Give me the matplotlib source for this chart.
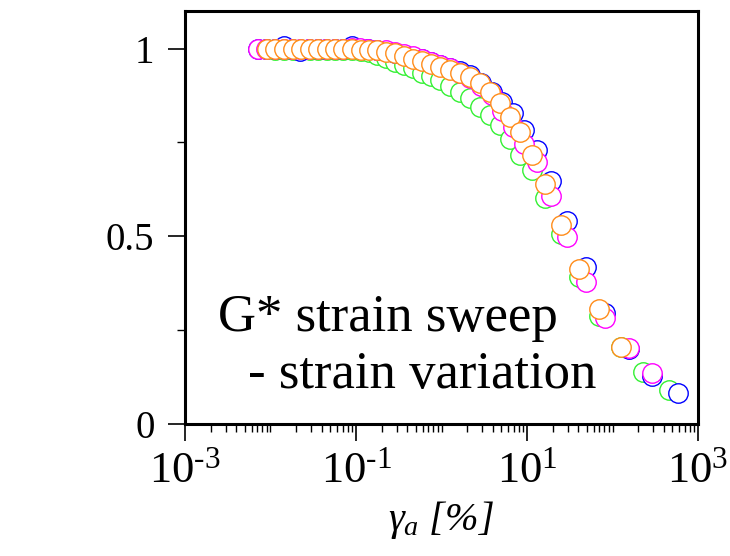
import numpy as np
import matplotlib
matplotlib.use("Agg")
import matplotlib.pyplot as plt
from matplotlib.ticker import LogLocator, NullFormatter, FixedLocator

# =========================
# Data (normalised G*)
# =========================

# orange / green share strain grid
strain_og = [0.0091, 0.0114, 0.0144, 0.0181, 0.0227, 0.0286, 0.0359, 0.0452, 0.0568,
             0.0714, 0.0898, 0.113, 0.142, 0.178, 0.224, 0.286, 0.364, 0.464, 0.591,
             0.754, 0.960, 1.26, 1.65, 2.15, 2.82, 3.69, 4.83, 6.33, 8.28, 11.4,
             16.2, 25.0, 40.6, 69.5, 126]
g_orange = [1.000, 1.000, 1.000, 1.000, 1.000, 1.000, 1.000, 1.000, 1.000,
            1.000, 0.999, 0.997, 0.996, 0.995, 0.992, 0.987, 0.981, 0.973, 0.968,
            0.960, 0.952, 0.944, 0.936, 0.923, 0.909, 0.885, 0.856, 0.819, 0.779, 0.717,
            0.640, 0.531, 0.413, 0.307, 0.205]

strain_green = strain_og + [227, 458]
g_green = [0.998, 0.997, 0.995, 0.997, 0.996, 0.997, 0.997, 0.997, 0.995,
           0.996, 0.995, 0.993, 0.990, 0.984, 0.976, 0.965, 0.957, 0.947, 0.936,
           0.928, 0.915, 0.901, 0.885, 0.867, 0.845, 0.824, 0.797, 0.760, 0.717, 0.677,
           0.603, 0.507, 0.392, 0.288, 0.205, 0.139, 0.091]

# blue / magenta share strain grid
strain_bm = [0.00714, 0.00898, 0.0113, 0.0142, 0.0178, 0.0224, 0.0282, 0.0355, 0.0446,
             0.0561, 0.0705, 0.0886, 0.111, 0.140, 0.176, 0.224, 0.286, 0.364, 0.464,
             0.591, 0.754, 0.960, 1.26, 1.65, 2.15, 2.90, 3.90, 5.10, 6.86, 9.22,
             13.1, 19.1, 29.4, 49.0, 81.7, 156, 290, 584]
g_blue = [1.000, 1.000, 1.000, 1.008, 1.000, 0.993, 1.000, 1.000, 1.000,
          1.000, 1.000, 1.008, 0.999, 0.998, 0.996, 0.993, 0.989, 0.984, 0.978,
          0.972, 0.965, 0.957, 0.949, 0.941, 0.929, 0.909, 0.885, 0.858, 0.829, 0.784,
          0.731, 0.648, 0.541, 0.419, 0.296, 0.200, 0.128, 0.083]
g_magenta = [1.000, 1.000, 1.000, 1.000, 1.000, 1.000, 1.000, 1.000, 1.000,
             1.000, 1.000, 1.001, 1.001, 0.999, 0.997, 0.995, 0.991, 0.985, 0.979,
             0.972, 0.964, 0.956, 0.947, 0.935, 0.921, 0.901, 0.875, 0.835, 0.790, 0.745,
             0.699, 0.606, 0.499, 0.379, 0.283, 0.203, 0.136]
strain_magenta = strain_bm[:len(g_magenta)]

series = [
    (strain_green, g_green, "#33f033"),
    (strain_bm, g_blue, "#0000ff"),
    (strain_magenta, g_magenta, "#ff00ff"),
    (strain_og, g_orange, "#ff8c1a"),
]

x_ticks = [1e-3, 1e-1, 1e1, 1e3]
x_tick_labels = [r"$\mathregular{10^{\text{-3}}}$", r"$\mathregular{10^{\text{-1}}}$",
                 r"$\mathregular{10^{1}}$", r"$\mathregular{10^{3}}$"]

# =========================
# Plot
# =========================

plt.rcParams["font.family"] = ["Liberation Serif", "DejaVu Serif"]
plt.rcParams["mathtext.fontset"] = "custom"
plt.rcParams["mathtext.rm"] = "Liberation Serif"
plt.rcParams["mathtext.it"] = "Liberation Serif:italic"

fig = plt.figure(figsize=(7.30, 5.56), dpi=100)
ax = fig.add_axes([0.2534, 0.2374, 0.9562 - 0.2534, 0.9802 - 0.2374])

for x, y, c in series:
    ax.plot(x, y, linestyle="none", marker="o", markersize=14,
            markerfacecolor="white", markeredgecolor=c, markeredgewidth=1.0)

ax.set_xscale("log")
ax.set_xlim(1e-3, 1e3)
ax.set_ylim(0, 1.1)

ax.xaxis.set_major_locator(FixedLocator(x_ticks))
ax.set_xticklabels(x_tick_labels)
ax.xaxis.set_minor_locator(LogLocator(base=10, subs=np.arange(1, 10), numticks=20))
ax.xaxis.set_minor_formatter(NullFormatter())

ax.set_yticks([0, 0.5, 1])
ax.set_yticklabels(["0", "0.5", "1"])
ax.set_yticks([0.25, 0.75], minor=True)

ax.tick_params(which="major", direction="out", length=12, width=1.2,
               top=False, right=False)
ax.tick_params(which="minor", direction="out", length=6, width=1.0,
               top=False, right=False)
ax.tick_params(axis="y", which="major", pad=10, labelsize=28)
ax.tick_params(axis="x", which="major", pad=8, labelsize=32)

for s in ax.spines.values():
    s.set_linewidth(2.2)

ax.set_xlabel(r"$\gamma_a$ [%]", fontsize=29, style="italic", labelpad=5)

ax.text(0.065, 0.225, "G* strain sweep", transform=ax.transAxes,
        fontsize=38, ha="left", va="baseline")
ax.text(0.123, 0.087, "- strain variation", transform=ax.transAxes,
        fontsize=38, ha="left", va="baseline")

fig.savefig("out.png", dpi=100)
plt.close(fig)
print("Saved: out.png")
